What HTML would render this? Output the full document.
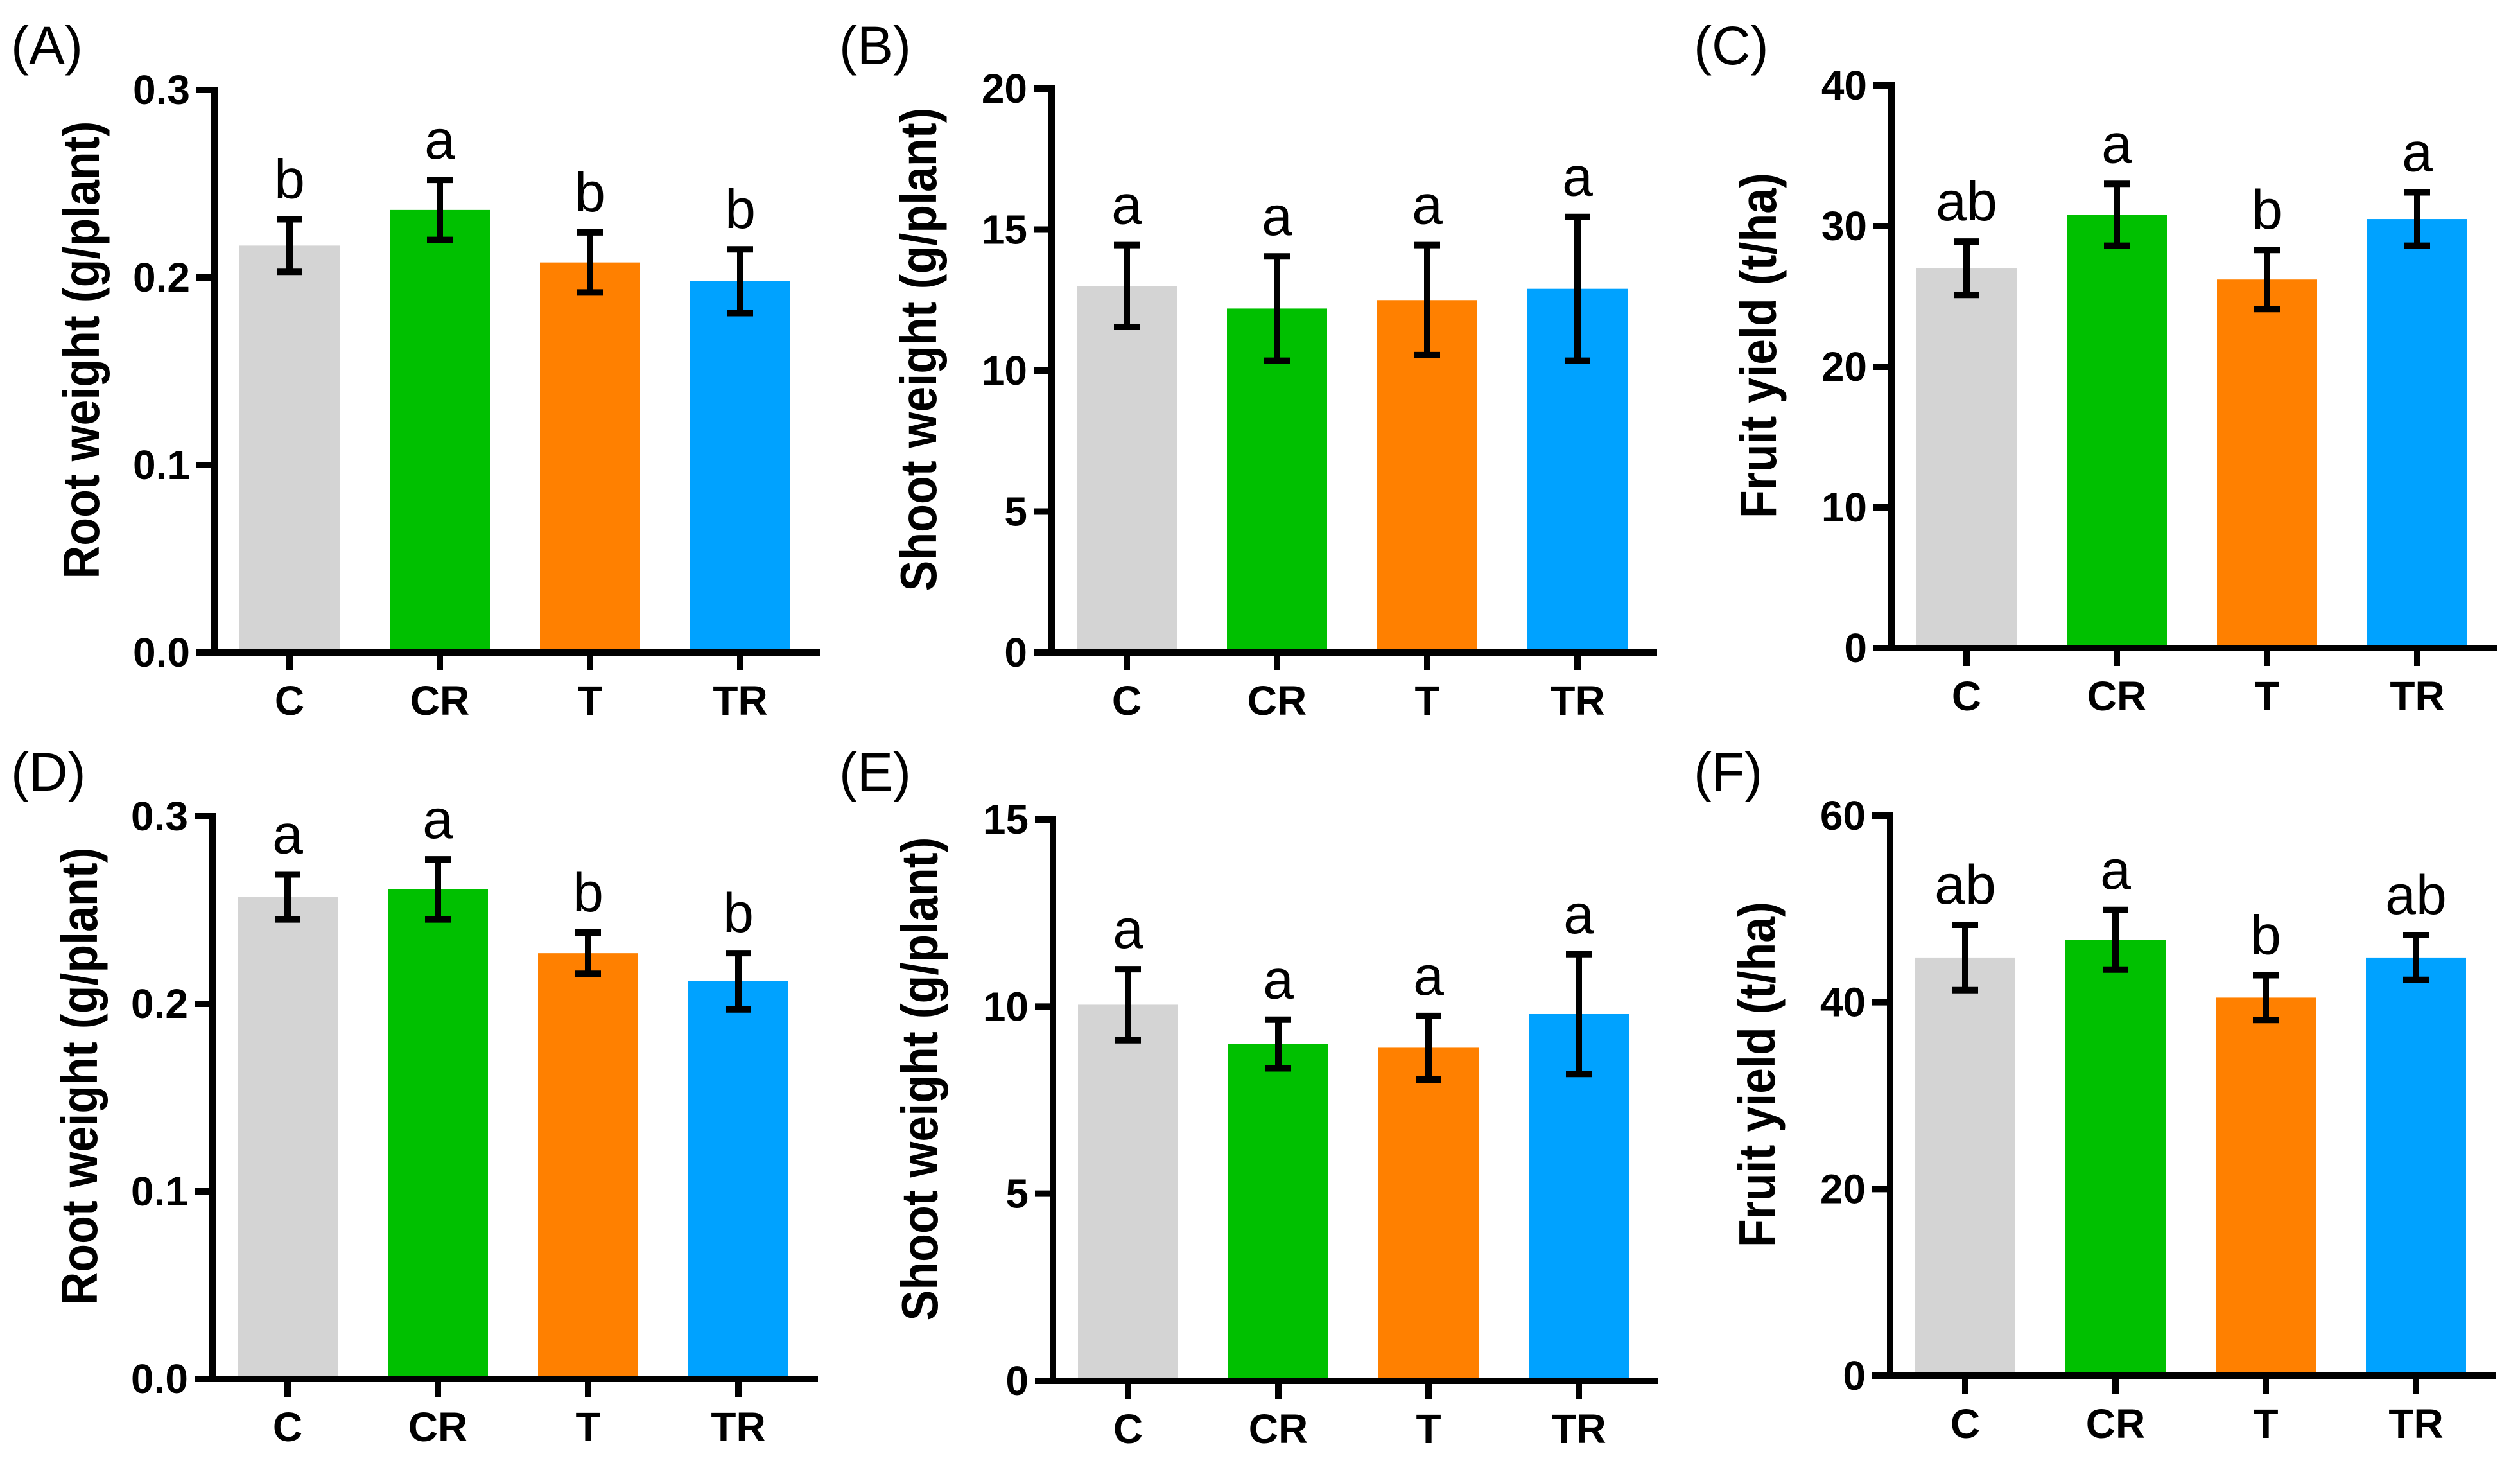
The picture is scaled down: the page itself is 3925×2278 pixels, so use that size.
<!DOCTYPE html>
<html><head><meta charset="utf-8"><style>
html,body{margin:0;padding:0;background:#fff;}
svg{display:block;}
text{font-family:"Liberation Sans",Arial,sans-serif;}
</style></head>
<body>
<svg id="fig" width="3925" height="2278" viewBox="0 0 3925 2278" xmlns="http://www.w3.org/2000/svg"></svg>
<script>
const categories = ["C","CR","T","TR"];
const colors = ["#d4d4d4","#00c000","#ff8000","#00a2ff"];
const rootA = [0.217,0.236,0.208,0.198];
const rootAErr = [0.014,0.016,0.016,0.017];
const rootALetters = ["b","a","b","b"];
const shootB = [13.0,12.2,12.5,12.9];
const shootBErr = [1.45,1.85,1.95,2.55];
const shootBLetters = ["a","a","a","a"];
const yieldC = [27.0,30.8,26.2,30.5];
const yieldCErr = [1.9,2.2,2.1,1.9];
const yieldCLetters = ["ab","a","b","a"];
const rootD = [0.257,0.261,0.227,0.212];
const rootDErr = [0.012,0.016,0.011,0.015];
const rootDLetters = ["a","a","b","b"];
const shootE = [10.05,9.0,8.9,9.8];
const shootEErr = [0.95,0.65,0.85,1.6];
const shootELetters = ["a","a","a","a"];
const yieldF = [44.8,46.7,40.5,44.8];
const yieldFErr = [3.5,3.2,2.4,2.4];
const yieldFLetters = ["ab","a","b","ab"];
const ticksRoot = ["0.0","0.1","0.2","0.3"];
const ticksShootB = ["0","5","10","15","20"];
const ticksYieldC = ["0","10","20","30","40"];
const ticksShootE = ["0","5","10","15"];
const ticksYieldF = ["0","20","40","60"];

const NS="http://www.w3.org/2000/svg";
const svg=document.getElementById('fig');
function mk(tag,attrs,parent){const e=document.createElementNS(NS,tag);for(const k in attrs)e.setAttribute(k,attrs[k]);(parent||svg).appendChild(e);return e;}

const panels=[
 {id:"A",label:"(A)",lx:17,ly:100,ax:334,top:140,zero:1016,max:0.3,ticks:ticksRoot,vals:rootA,err:rootAErr,let:rootALetters,title:"Root weight (g/plant)",tlen:713},
 {id:"B",label:"(B)",lx:1307,ly:100,ax:1638,top:138,zero:1016,max:20,ticks:ticksShootB,vals:shootB,err:shootBErr,let:shootBLetters,title:"Shoot weight (g/plant)",tlen:753},
 {id:"C",label:"(C)",lx:2638,ly:100,ax:2946,top:133,zero:1009,max:40,ticks:ticksYieldC,vals:yieldC,err:yieldCErr,let:yieldCLetters,title:"Fruit yield (t/ha)",tlen:538},
 {id:"D",label:"(D)",lx:17,ly:1231,ax:331,top:1271,zero:2147,max:0.3,ticks:ticksRoot,vals:rootD,err:rootDErr,let:rootDLetters,title:"Root weight (g/plant)",tlen:713},
 {id:"E",label:"(E)",lx:1307,ly:1231,ax:1640,top:1276,zero:2150,max:15,ticks:ticksShootE,vals:shootE,err:shootEErr,let:shootELetters,title:"Shoot weight (g/plant)",tlen:753},
 {id:"F",label:"(F)",lx:2638,ly:1231,ax:2944,top:1270,zero:2142,max:60,ticks:ticksYieldF,vals:yieldF,err:yieldFErr,let:yieldFLetters,title:"Fruit yield (t/ha)",tlen:538}
];

panels.forEach(p=>{
  const g=mk('g',{});
  
  
  const y=v=>p.zero-(v/p.max)*(p.zero-p.top);
  const xb=i=>p.ax+39+i*234;
  const bw=156;
  const pl=mk('text',{x:p.lx,y:p.ly,'font-size':84,fill:'#000'},g);pl.textContent=p.label;
  
  
  p.vals.forEach((v,i)=>{
    const r=mk('rect',{x:xb(i),y:y(v),width:bw,height:p.zero-y(v),fill:colors[i]},g);
    
    
  });
  p.vals.forEach((v,i)=>{
    const cx=xb(i)+bw/2, t=y(v+p.err[i]), b=y(v-p.err[i]);
    const eg=mk('g',{stroke:'#000','stroke-width':10},g);
    
    
    mk('line',{x1:cx,y1:t,x2:cx,y2:b},eg);
    mk('line',{x1:cx-20,y1:t,x2:cx+20,y2:t},eg);
    mk('line',{x1:cx-20,y1:b,x2:cx+20,y2:b},eg);
    const lt=mk('text',{x:cx,y:t-33,'font-size':86,'text-anchor':'middle',fill:'#000'},g);
    lt.textContent=p.let[i];
    
    
  });
  const ax=mk('g',{stroke:'#000','stroke-width':10,fill:'none'},g);
  
  
  mk('line',{x1:p.ax,y1:p.top-5,x2:p.ax,y2:p.zero+5},ax);
  mk('line',{x1:p.ax-28,y1:p.zero,x2:p.ax+943,y2:p.zero},ax);
  const n=p.ticks.length-1;
  p.ticks.forEach((tk,k)=>{
    const ty=p.zero-k/n*(p.zero-p.top);
    mk('line',{x1:p.ax-28,y1:ty,x2:p.ax,y2:ty},ax);
    const tt=mk('text',{x:p.ax-38,y:ty+22,'font-size':64,'font-weight':'bold','text-anchor':'end',fill:'#000'},g);
    tt.textContent=tk;
    
    
  });
  categories.forEach((c,i)=>{
    const cx=xb(i)+bw/2;
    mk('line',{x1:cx,y1:p.zero,x2:cx,y2:p.zero+28},ax);
    const ct=mk('text',{x:cx,y:p.zero+97,'font-size':64,'font-weight':'bold','text-anchor':'middle',fill:'#000'},g);
    ct.textContent=c;
    
    
  });
  const cy=(p.top+p.zero)/2-33;
  const tx=p.ax-180;
  const yt=mk('text',{x:tx,y:cy,'font-size':80,'font-weight':'bold','text-anchor':'middle',fill:'#000',textLength:p.tlen,lengthAdjust:'spacingAndGlyphs',transform:`rotate(-90 ${tx} ${cy})`},g);
  yt.textContent=p.title;
  
  
});
</script>
</body></html>
